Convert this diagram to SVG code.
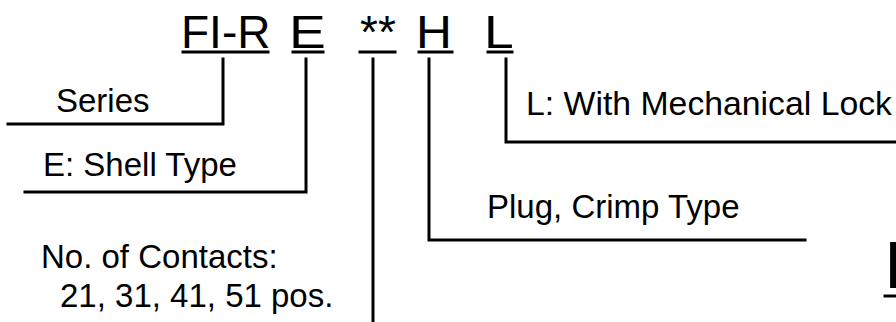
<svg xmlns="http://www.w3.org/2000/svg" width="896" height="322" viewBox="0 0 896 322">
<style>
.big{font-family:"Liberation Sans",Arial,sans-serif;font-size:46px;fill:#000}
.lbl{font-family:"Liberation Sans",Arial,sans-serif;font-size:33px;fill:#000}
.ln{stroke:#000;stroke-width:3;fill:none;stroke-linecap:square}
</style>
<rect width="896" height="322" fill="#fff"/>
<g id="code">
<text class="big" x="181" y="48">FI-R</text>
<text class="big" x="289" y="48" textLength="36.8" lengthAdjust="spacingAndGlyphs">E</text>
<text class="big" x="360" y="48">**</text>
<text class="big" x="416" y="48" textLength="35.9" lengthAdjust="spacingAndGlyphs">H</text>
<text class="big" x="484" y="48" textLength="29.7" lengthAdjust="spacingAndGlyphs">L</text>
<text class="big" x="884" y="288" style="font-size:66px">I</text>
</g>
<g id="labels">
<text class="lbl" x="56" y="112">Series</text>
<text class="lbl" x="526" y="115" textLength="366" lengthAdjust="spacingAndGlyphs">L: With Mechanical Lock</text>
<text class="lbl" x="43" y="176">E: Shell Type</text>
<text class="lbl" x="487" y="218">Plug, Crimp Type</text>
<text class="lbl" x="41" y="268">No. of Contacts:</text>
<text class="lbl" x="60" y="307">21, 31, 41, 51 pos.</text>
</g>
<g id="connectors">
<line class="ln" x1="183" y1="52" x2="268" y2="52"/>
<line class="ln" x1="293" y1="52" x2="323" y2="52"/>
<line class="ln" x1="360" y1="52" x2="395" y2="52"/>
<line class="ln" x1="419" y1="52" x2="452" y2="52"/>
<line class="ln" x1="488" y1="52" x2="512" y2="52"/>
<line class="ln" x1="885" y1="296" x2="896" y2="296"/>
<polyline class="ln" points="223,59 223,124 8,124"/>
<polyline class="ln" points="306,59 306,192 25,192"/>
<line class="ln" x1="373" y1="59" x2="373" y2="322"/>
<polyline class="ln" points="429,59 429,240 805,240"/>
<polyline class="ln" points="506,59 506,142 896,142"/>
</g>
</svg>
